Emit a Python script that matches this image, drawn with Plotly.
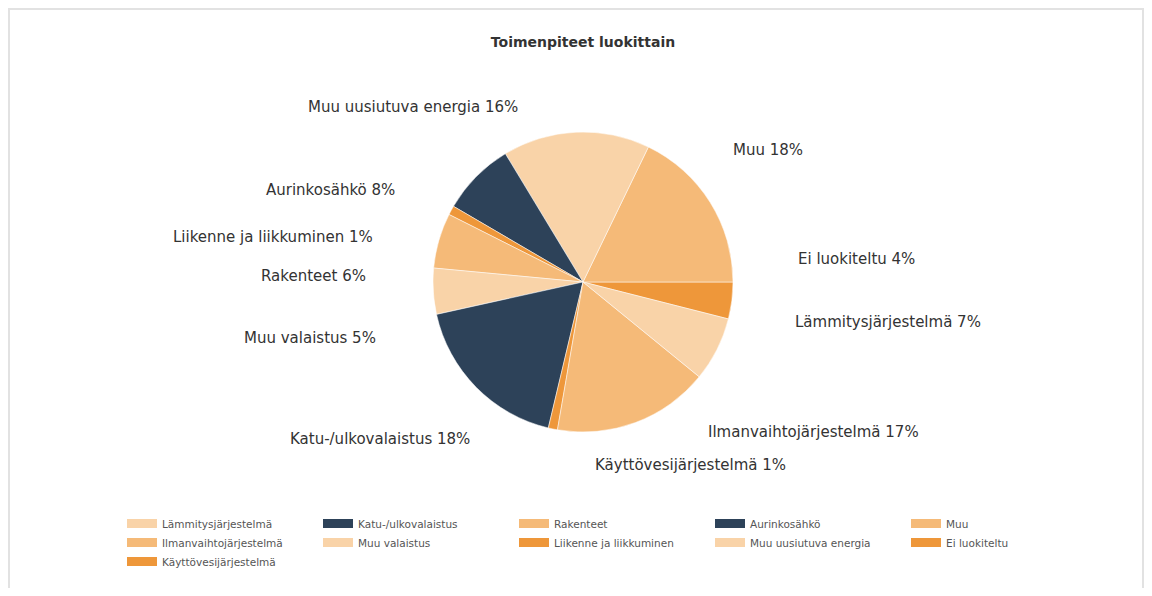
import math

import plotly.graph_objects as go

# slices in drawing order (counterclockwise from 3 o'clock)
SLICE_LABELS = [
    "Ei luokiteltu",
    "Muu",
    "Muu uusiutuva energia",
    "Aurinkosähkö",
    "Liikenne ja liikkuminen",
    "Rakenteet",
    "Muu valaistus",
    "Katu-/ulkovalaistus",
    "Käyttövesijärjestelmä",
    "Ilmanvaihtojärjestelmä",
    "Lämmitysjärjestelmä",
]
SLICE_VALUES = [4, 18, 16, 8, 1, 6, 5, 18, 1, 17, 7]

# legend order as in the source
LEGEND_LABELS = [
    "Lämmitysjärjestelmä",
    "Katu-/ulkovalaistus",
    "Rakenteet",
    "Aurinkosähkö",
    "Muu",
    "Ilmanvaihtojärjestelmä",
    "Muu valaistus",
    "Liikenne ja liikkuminen",
    "Muu uusiutuva energia",
    "Ei luokiteltu",
    "Käyttövesijärjestelmä",
]

LIGHT = "#f9d3a8"
MID = "#f5ba78"
ORANGE = "#ee973a"
NAVY = "#2d4259"

COLORS = {
    "Lämmitysjärjestelmä": LIGHT,
    "Katu-/ulkovalaistus": NAVY,
    "Rakenteet": MID,
    "Aurinkosähkö": NAVY,
    "Muu": MID,
    "Ilmanvaihtojärjestelmä": MID,
    "Muu valaistus": LIGHT,
    "Liikenne ja liikkuminen": ORANGE,
    "Muu uusiutuva energia": LIGHT,
    "Ei luokiteltu": ORANGE,
    "Käyttövesijärjestelmä": ORANGE,
}

OFF = 8  # page body margin
W, H = 1152 - 2 * OFF, 596 - 2 * OFF
FONT = "DejaVu Sans, Arial, sans-serif"
TEXT = "#333333"

# pie geometry in screen pixels
CX, CY, R = 583, 282, 150
# label ring (slightly flattened)
LRX, LRY = 215, 183


def px_x(v):
    return (v - OFF) / W


def px_y(v):
    return 1 - (v - OFF) / H


fig = go.Figure()
fig.add_trace(
    go.Pie(
        labels=SLICE_LABELS,
        values=SLICE_VALUES,
        sort=False,
        direction="counterclockwise",
        rotation=90,
        marker={"colors": [COLORS[l] for l in SLICE_LABELS], "line": {"color": "white", "width": 0.5}},
        textinfo="none",
        showlegend=False,
        hoverinfo="label+value",
        domain={"x": [px_x(CX - R), px_x(CX + R)], "y": [px_y(CY + R), px_y(CY - R)]},
    )
)

# slice labels placed around the pie at each slice's mid angle
total = sum(SLICE_VALUES)
cum = 0
for label, value in zip(SLICE_LABELS, SLICE_VALUES):
    mid = math.radians((cum + value / 2) / total * 360)
    cum += value
    cx, sy = math.cos(mid), math.sin(mid)
    fig.add_annotation(
        text=f"{label} {value}%",
        x=px_x(CX + LRX * cx),
        y=px_y(CY - LRY * sy),
        xref="paper",
        yref="paper",
        xanchor="left" if cx >= 0 else "right",
        yanchor="middle",
        showarrow=False,
        font={"size": 15, "color": TEXT, "family": FONT},
    )

# legend entries drawn as dummy line traces so the order matches the source
for name in LEGEND_LABELS:
    fig.add_trace(
        go.Scatter(
            x=[None],
            y=[None],
            mode="lines",
            name=name,
            line={"color": COLORS[name], "width": 9},
            hoverinfo="skip",
        )
    )

fig.update_layout(
    width=W,
    height=H,
    margin={"l": 0, "r": 0, "t": 0, "b": 0},
    paper_bgcolor="white",
    plot_bgcolor="white",
    font={"family": FONT, "color": TEXT},
    title={
        "text": "<b>Toimenpiteet luokittain</b>",
        "x": px_x(CX),
        "xanchor": "center",
        "y": px_y(42),
        "yanchor": "middle",
        "font": {"size": 14, "color": TEXT, "family": FONT},
    },
    xaxis={"visible": False},
    yaxis={"visible": False},
    legend={
        "orientation": "h",
        "x": px_x(122),
        "xanchor": "left",
        "y": px_y(509),
        "yanchor": "top",
        "font": {"size": 10.5, "color": "#555555", "family": FONT},
        "entrywidth": 151,
        "entrywidthmode": "pixels",
        "itemwidth": 30,
        "bgcolor": "rgba(0,0,0,0)",
    },
    shapes=[
        {
            "type": "rect",
            "xref": "paper",
            "yref": "paper",
            "x0": px_x(9),
            "x1": px_x(1143),
            "y0": -0.05,
            "y1": px_y(9),
            "line": {"color": "#e2e2e2", "width": 2},
        }
    ],
)

fig.write_html("out.html")
